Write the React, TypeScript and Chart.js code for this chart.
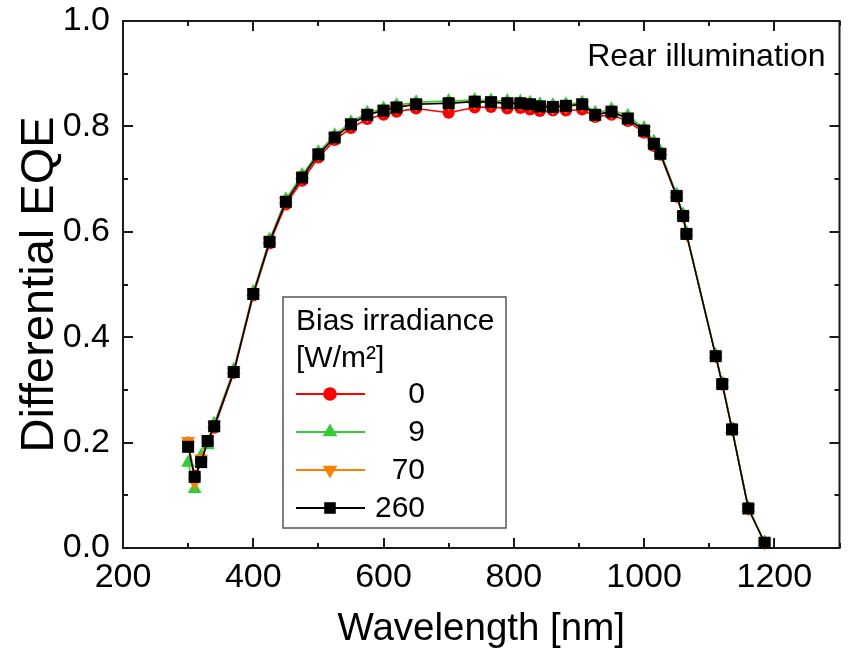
import React, { useEffect, useRef } from 'react';
import { Chart, registerables } from 'chart.js';

Chart.register(...registerables);

// Wavelength grid of the differential EQE scan [nm]
const wavelengths = [
  300, 310, 320, 330, 340, 370, 400, 425, 450, 475,
  500, 525, 550, 575, 600, 620, 650, 700, 740, 765,
  790, 810, 825, 840, 860, 880, 905, 925, 950, 975,
  1000, 1015, 1025, 1050, 1060, 1065, 1110, 1120, 1135, 1160,
  1185,
];

// Differential EQE at bias irradiance 0 W/m²
const eqe0 = [
  0.200, 0.137, 0.165, 0.200, 0.228, 0.332, 0.479, 0.578, 0.652, 0.697,
  0.741, 0.774, 0.797, 0.814, 0.822, 0.828, 0.834, 0.826, 0.836, 0.837,
  0.834, 0.835, 0.832, 0.829, 0.830, 0.830, 0.832, 0.818, 0.822, 0.810,
  0.788, 0.763, 0.746, 0.667, 0.629, 0.596, 0.365, 0.313, 0.227, 0.076,
  0.010,
];

// Differential EQE at bias irradiance 9 W/m²
const eqe9 = [
  0.162, 0.112, 0.175, 0.195, 0.236, 0.338, 0.486, 0.585, 0.662, 0.708,
  0.751, 0.783, 0.808, 0.826, 0.834, 0.840, 0.846, 0.848, 0.850, 0.849,
  0.848, 0.847, 0.845, 0.842, 0.840, 0.842, 0.845, 0.826, 0.832, 0.820,
  0.797, 0.771, 0.752, 0.671, 0.633, 0.598, 0.366, 0.312, 0.226, 0.076,
  0.011,
];

// Differential EQE at bias irradiance 70 W/m²
const eqe70 = [
  0.203, 0.125, 0.170, 0.205, 0.233, 0.335, 0.483, 0.582, 0.658, 0.704,
  0.748, 0.780, 0.805, 0.822, 0.831, 0.837, 0.843, 0.844, 0.847, 0.846,
  0.844, 0.844, 0.842, 0.838, 0.836, 0.838, 0.841, 0.822, 0.828, 0.815,
  0.793, 0.768, 0.749, 0.668, 0.630, 0.596, 0.365, 0.312, 0.226, 0.075,
  0.010,
];

// Differential EQE at bias irradiance 260 W/m²
const eqe260 = [
  0.192, 0.135, 0.163, 0.203, 0.231, 0.334, 0.482, 0.581, 0.657, 0.703,
  0.747, 0.779, 0.804, 0.822, 0.830, 0.836, 0.842, 0.844, 0.847, 0.846,
  0.844, 0.844, 0.842, 0.838, 0.837, 0.839, 0.842, 0.822, 0.828, 0.815,
  0.792, 0.767, 0.748, 0.668, 0.630, 0.596, 0.364, 0.311, 0.225, 0.075,
  0.010,
];

const biasLabels = ['0', '9', '70', '260'];
const seriesColors = ['#ff0000', '#33cc33', '#ff8000', '#000000'];
const seriesMarkers = ['circle', 'triangleUp', 'triangleDown', 'square'];
const seriesValues = [eqe0, eqe9, eqe70, eqe260];

const xMin = 200;
const xMax = 1300;
const xMajor = 200;
const xMinor = 100;
const yMin = 0;
const yMax = 1;
const yMajor = 0.2;
const yMinor = 0.1;

const FONT = '"Liberation Sans", Arial, Helvetica, sans-serif';
const WIDTH = 848;
const HEIGHT = 654;

function drawMarker(ctx: CanvasRenderingContext2D, kind: string, x: number, y: number, color: string, scale = 1) {
  ctx.save();
  ctx.fillStyle = color;
  ctx.beginPath();
  if (kind === 'circle') {
    ctx.arc(x, y, 6.5 * scale, 0, Math.PI * 2);
  } else if (kind === 'triangleUp') {
    const r = 8 * scale;
    ctx.moveTo(x, y - r);
    ctx.lineTo(x + r * Math.sin((2 * Math.PI) / 3), y - r * Math.cos((2 * Math.PI) / 3));
    ctx.lineTo(x - r * Math.sin((2 * Math.PI) / 3), y - r * Math.cos((2 * Math.PI) / 3));
    ctx.closePath();
  } else if (kind === 'triangleDown') {
    const r = 8 * scale;
    ctx.moveTo(x, y + r);
    ctx.lineTo(x + r * Math.sin((2 * Math.PI) / 3), y + r * Math.cos((2 * Math.PI) / 3));
    ctx.lineTo(x - r * Math.sin((2 * Math.PI) / 3), y + r * Math.cos((2 * Math.PI) / 3));
    ctx.closePath();
  } else {
    const h = 5.5 * scale;
    ctx.rect(x - h, y - h, 2 * h, 2 * h);
  }
  ctx.fill();
  ctx.restore();
}

// Closed frame with inward major/minor ticks on all four sides
const framePlugin = {
  id: 'eqeFrame',
  beforeDatasetsDraw(chart: any) {
    const { ctx, chartArea, scales } = chart;
    const { left, right, top, bottom } = chartArea;
    const x = scales.x;
    const y = scales.y;
    ctx.save();
    ctx.strokeStyle = '#1a1a1a';
    ctx.lineWidth = 2;
    ctx.beginPath();
    for (let v = xMin; v <= xMax + 1e-9; v += xMinor) {
      const px = Math.round(x.getPixelForValue(v));
      const len = Math.abs(((v - xMin) / xMajor) % 1) < 1e-6 ? 10 : 5;
      ctx.moveTo(px, bottom);
      ctx.lineTo(px, bottom - len);
      ctx.moveTo(px, top);
      ctx.lineTo(px, top + len);
    }
    const nY = Math.round((yMax - yMin) / yMinor);
    for (let i = 0; i <= nY; i++) {
      const v = yMin + i * yMinor;
      const py = Math.round(y.getPixelForValue(v));
      const len = i % Math.round(yMajor / yMinor) === 0 ? 10 : 5;
      ctx.moveTo(left, py);
      ctx.lineTo(left + len, py);
      ctx.moveTo(right, py);
      ctx.lineTo(right - len, py);
    }
    ctx.stroke();
    ctx.strokeRect(left, top, right - left, bottom - top);
    ctx.restore();
  },
  afterDatasetsDraw(chart: any) {
    const { ctx, chartArea } = chart;
    ctx.save();
    // Annotation in the upper right corner
    ctx.font = `32px ${FONT}`;
    ctx.fillStyle = '#000';
    ctx.textAlign = 'right';
    ctx.textBaseline = 'alphabetic';
    ctx.fillText('Rear illumination', chartArea.right - 14, chartArea.top + 45);

    // Legend box
    const bx = 283;
    const by = 297;
    const bw = 223;
    const bh = 231;
    ctx.fillStyle = '#fff';
    ctx.fillRect(bx, by, bw, bh);
    ctx.strokeStyle = '#555';
    ctx.lineWidth = 1.5;
    ctx.strokeRect(bx, by, bw, bh);

    ctx.fillStyle = '#000';
    ctx.textAlign = 'left';
    ctx.font = `30px ${FONT}`;
    ctx.fillText('Bias irradiance', bx + 13, by + 33);
    ctx.fillText('[W/m²]', bx + 13, by + 70);

    const rowY0 = by + 97;
    const rowStep = 38;
    for (let i = 0; i < biasLabels.length; i++) {
      const ry = rowY0 + i * rowStep;
      ctx.strokeStyle = seriesColors[i];
      ctx.lineWidth = 2;
      ctx.beginPath();
      ctx.moveTo(bx + 13, ry);
      ctx.lineTo(bx + 82, ry);
      ctx.stroke();
      drawMarker(ctx, seriesMarkers[i], bx + 47, ry, seriesColors[i], 1.05);
      ctx.fillStyle = '#000';
      ctx.textAlign = 'right';
      ctx.textBaseline = 'middle';
      ctx.fillText(biasLabels[i], bx + 142, ry + 1);
    }
    ctx.restore();
  },
};

export default function App() {
  const canvasRef = useRef<HTMLCanvasElement | null>(null);

  useEffect(() => {
    const canvas = canvasRef.current;
    if (!canvas) return;

    const pointStyles: any[] = ['circle', 'triangle', 'triangle', 'rect'];
    const pointRotations = [0, 0, 180, 0];
    const pointRadii = [6, 8, 8, 8.5];

    const datasets = seriesValues.map((vals, i) => ({
      label: biasLabels[i],
      data: wavelengths.map((w, j) => ({ x: w, y: vals[j] })),
      borderColor: seriesColors[i],
      backgroundColor: seriesColors[i],
      pointBackgroundColor: seriesColors[i],
      pointBorderWidth: 0,
      pointBorderColor: seriesColors[i],
      pointStyle: pointStyles[i],
      pointRotation: pointRotations[i],
      pointRadius: pointRadii[i],
      pointHoverRadius: pointRadii[i],
      borderWidth: 1.6,
      tension: 0,
      fill: false,
      clip: false as any,
      order: seriesValues.length - 1 - i,
    }));

    const chart = new Chart(canvas, {
      type: 'line',
      data: { datasets },
      options: {
        responsive: false,
        animation: false,
        devicePixelRatio: 1,
        layout: { padding: { top: 21, right: 5, left: 0, bottom: 0 } },
        plugins: {
          legend: { display: false },
          tooltip: { enabled: false },
        },
        scales: {
          x: {
            type: 'linear',
            min: xMin,
            max: xMax,
            afterFit(scale: any) {
              scale.height = 106;
            },
            grid: { display: false, drawTicks: false },
            border: { display: false },
            ticks: {
              stepSize: xMajor,
              includeBounds: false,
              autoSkip: false,
              maxRotation: 0,
              padding: 9,
              color: '#000',
              font: { family: FONT, size: 34 },
              callback: (v: any) => String(v),
            },
            title: {
              display: true,
              text: 'Wavelength [nm]',
              color: '#000',
              font: { family: FONT, size: 38.5 },
              padding: { top: 0, bottom: 2 },
            },
          },
          y: {
            type: 'linear',
            min: yMin,
            max: yMax,
            afterFit(scale: any) {
              scale.width = 123;
            },
            grid: { display: false, drawTicks: false },
            border: { display: false },
            ticks: {
              stepSize: yMajor,
              padding: 13,
              color: '#000',
              font: { family: FONT, size: 34, lineHeight: 0.4 },
              callback: (v: any) => Number(v).toFixed(1),
            },
            title: {
              display: true,
              text: 'Differential EQE',
              color: '#000',
              font: { family: FONT, size: 47 },
              padding: { top: 12, bottom: 0 },
            },
          },
        },
      },
      plugins: [framePlugin],
    });

    return () => chart.destroy();
  }, []);

  return (
    <div style={{ position: 'absolute', left: 0, top: 0, width: WIDTH, height: HEIGHT, background: '#fff' }}>
      <canvas ref={canvasRef} width={WIDTH} height={HEIGHT} style={{ width: WIDTH, height: HEIGHT, display: 'block' }} />
    </div>
  );
}
